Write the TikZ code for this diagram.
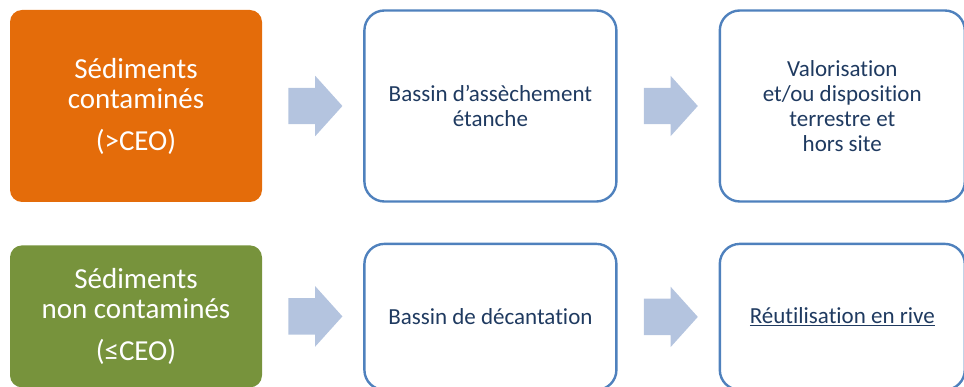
\documentclass[tikz,border=0pt]{standalone}
\usepackage{fontspec}
\setmainfont{Carlito}[Ligatures=NoCommon]
\usetikzlibrary{positioning,shapes.arrows}
\definecolor{sedorange}{HTML}{E46C0A}
\definecolor{sedgreen}{HTML}{77933C}
\definecolor{boxblue}{HTML}{4F81BD}
\definecolor{flowblue}{HTML}{B4C4DF}
\definecolor{textnavy}{HTML}{1F3A60}

\begin{document}
\begin{tikzpicture}[x=1pt, y=1pt, node distance=101pt,
	srcbox/.style={rectangle, rounded corners=12pt, text=white, align=center, minimum width=252pt, inner sep=0pt, font=\fontsize{29}{30}\selectfont},
	stepbox/.style={rectangle, draw=boxblue, line width=2.4pt, rounded corners=20pt, text=textnavy, align=center, minimum width=252pt, inner sep=0pt, font=\fontsize{23}{25}\selectfont},
	flow/.style={single arrow, fill=flowblue, minimum height=54pt, minimum width=60pt, text height=18pt, text depth=18pt, single arrow head extend=12pt, single arrow tip angle=96, inner sep=0pt}]
	\useasboundingbox (0,0) rectangle (964,-387);

	% Nodes, top row
	\node [srcbox, fill=sedorange, minimum height=192pt] (sedc) at (136,-106) {Sédiments\\contaminés\\[12pt](>CEO)};
	\node [stepbox, minimum height=191pt] (bassin1) [right=of sedc] {Bassin d’assèchement\\étanche};
	\node [stepbox, minimum height=191pt, minimum width=245pt] (valor) [right=of bassin1] {Valorisation\\et/ou disposition\\terrestre et\\hors site};

	% Nodes, bottom row
	\node [srcbox, fill=sedgreen, minimum height=142pt] (sednc) [below=43pt of sedc] {Sédiments\\non contaminés\\[12pt](≤CEO)};
	\node [stepbox, minimum height=146pt] (bassin2) [below=40pt of bassin1] {Bassin de décantation};
	\node [stepbox, minimum height=146pt, minimum width=245pt] (reut) [below=40pt of valor] {\underline{Réutilisation en rive}};

	% Arrows
	\node [flow, right=26pt of sedc] (a1) {};
	\node [flow, right=26pt of bassin1] (a2) {};
	\node [flow, right=26pt of sednc] (a3) {};
	\node [flow, right=26pt of bassin2] (a4) {};
\end{tikzpicture}
\end{document}
